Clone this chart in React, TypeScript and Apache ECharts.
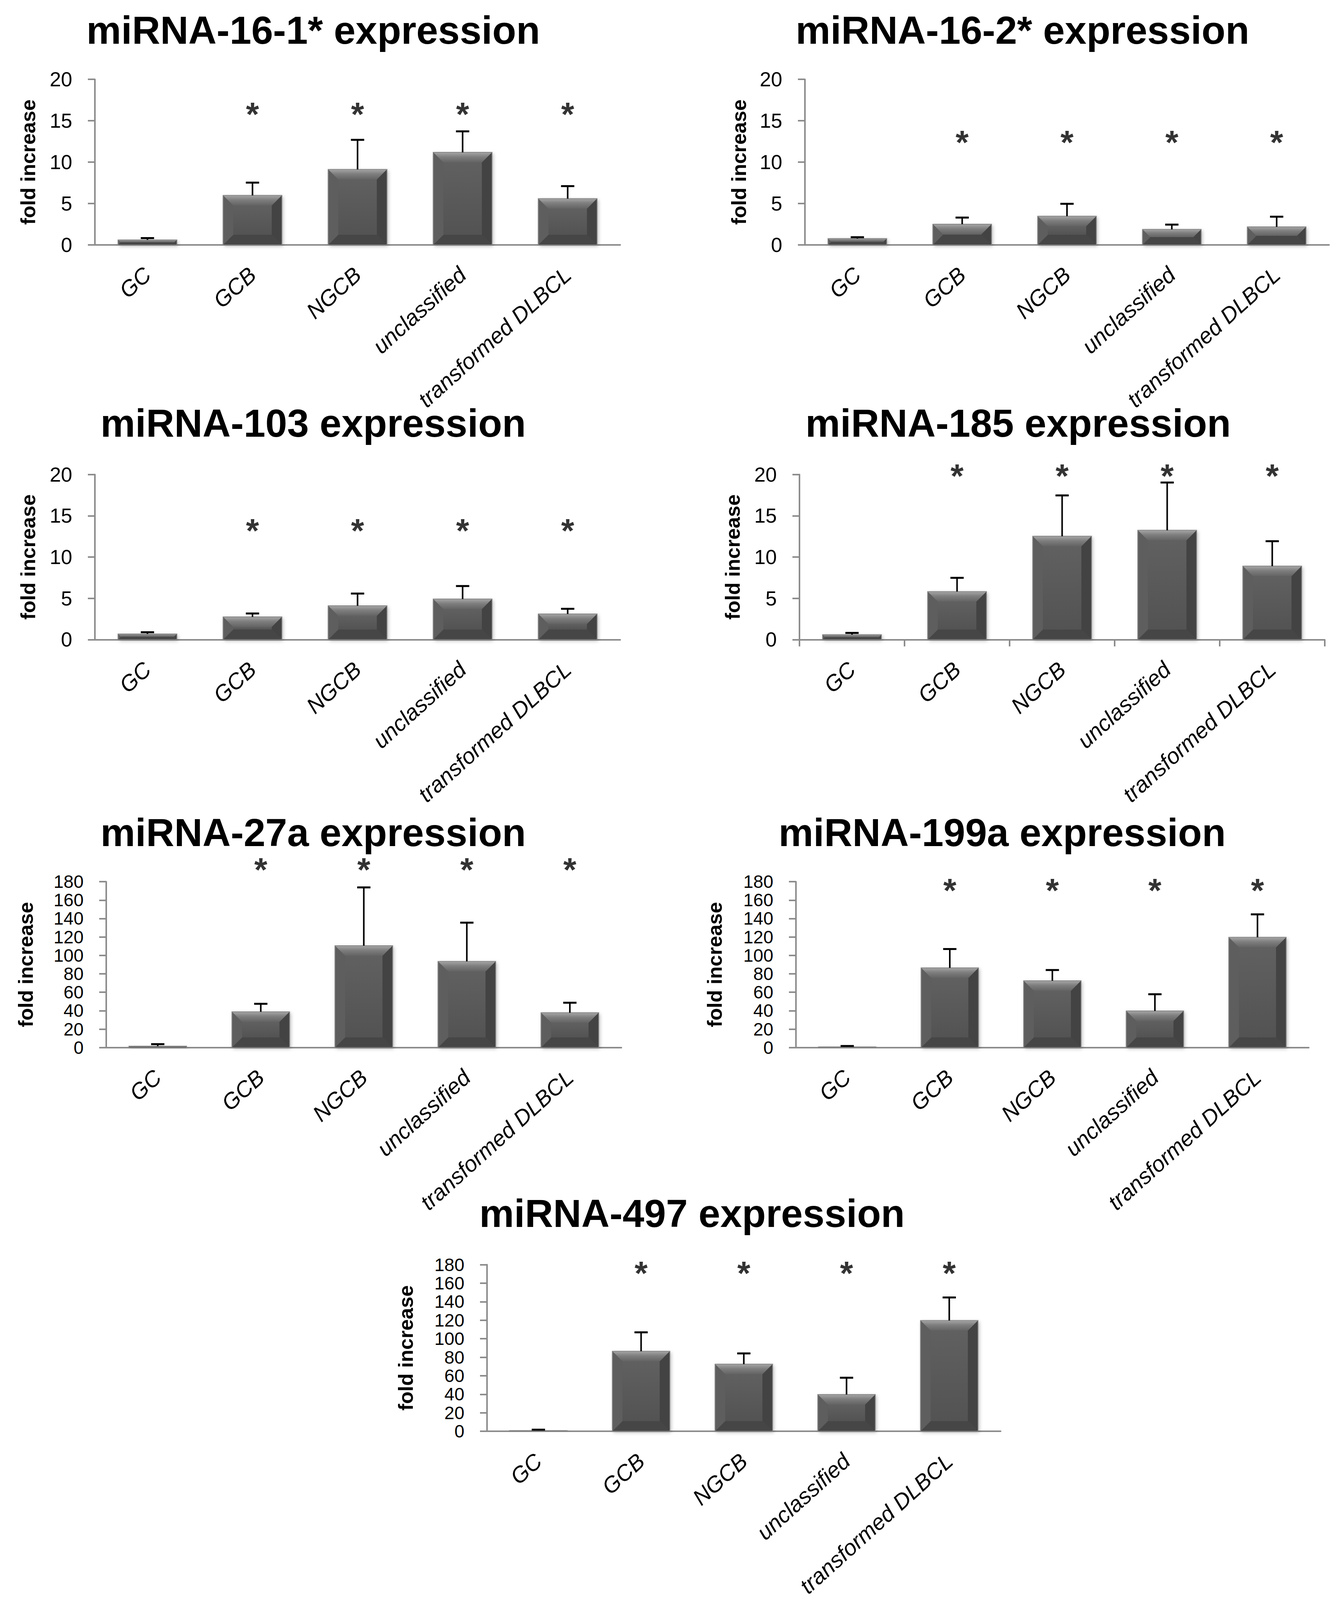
import React, { useEffect, useRef } from 'react';
import * as echarts from 'echarts';

const categories = ['GC', 'GCB', 'NGCB', 'unclassified', 'transformed DLBCL'];

const titles = [
  'miRNA-16-1* expression',
  'miRNA-16-2* expression',
  'miRNA-103 expression',
  'miRNA-185 expression',
  'miRNA-27a expression',
  'miRNA-199a expression',
  'miRNA-497 expression',
];

// mean fold increase and upper error (SD) per category
const mir161Mean = [0.6, 5.98, 9.12, 11.18, 5.59];
const mir161Err = [0.22, 1.54, 3.57, 2.54, 1.51];
const mir162Mean = [0.76, 2.5, 3.47, 1.87, 2.18];
const mir162Err = [0.17, 0.8, 1.5, 0.58, 1.23];
const mir103Mean = [0.69, 2.75, 4.1, 4.92, 3.11];
const mir103Err = [0.21, 0.42, 1.48, 1.57, 0.63];
const mir185Mean = [0.6, 5.82, 12.52, 13.24, 8.9];
const mir185Err = [0.21, 1.66, 4.95, 5.79, 3.02];
const mir27aMean = [1.5, 38.8, 110.5, 93.5, 37.8];
const mir27aErr = [2.2, 8.7, 63.3, 42.0, 10.9];
const mir199aMean = [0.8, 86.5, 72.5, 39.7, 119.7];
const mir199aErr = [0.9, 20.4, 11.6, 18.2, 24.9];
const mir497Mean = [0.8, 86.5, 72.5, 39.7, 119.7];
const mir497Err = [0.9, 20.4, 11.6, 18.2, 24.9];

const means = [mir161Mean, mir162Mean, mir103Mean, mir185Mean, mir27aMean, mir199aMean, mir497Mean];
const errs = [mir161Err, mir162Err, mir103Err, mir185Err, mir27aErr, mir199aErr, mir497Err];

const yMax = [20, 20, 20, 20, 180, 180, 180];
const yInterval = [5, 5, 5, 5, 20, 20, 20];
// significance marks (asterisk) per category and the level where they are drawn
const starFlags = [0, 1, 1, 1, 1];
const starLevel = [16.3, 12.9, 13.7, 20.3, 197.5, 174.8, 175.3];

// layout in reference pixels (3431 x 4495); vertical values are scaled to the viewport
const REF_W = 3431;
const REF_H = 4495;
const layouts = [
  { left: 243, top: 223, width: 1345, height: 465, tx: 802, ty: 84, nameGap: 145, xTicks: false, yFont: 52 },
  { left: 2061, top: 223, width: 1342, height: 465, tx: 2618, ty: 84, nameGap: 143, xTicks: false, yFont: 52 },
  { left: 243, top: 1333, width: 1345, height: 464, tx: 802, ty: 1189, nameGap: 145, xTicks: false, yFont: 52 },
  { left: 2047, top: 1333, width: 1345, height: 464, tx: 2607, ty: 1189, nameGap: 145, xTicks: true, yFont: 52 },
  { left: 272, top: 2477, width: 1319, height: 466, tx: 802, ty: 2339, nameGap: 180, xTicks: false, yFont: 46 },
  { left: 2038, top: 2477, width: 1313, height: 466, tx: 2566, ty: 2339, nameGap: 182, xTicks: false, yFont: 46 },
  { left: 1247, top: 3553, width: 1315, height: 468, tx: 1772, ty: 3409, nameGap: 182, xTicks: false, yFont: 46 },
];

const AXIS_GRAY = '#8c8c8c';
const SANS = '"Liberation Sans", Arial, sans-serif';

function renderBevelBar(params: any, api: any) {
  const idx = api.value(0);
  const v = api.value(1);
  const top = api.coord([idx, v]);
  const base = api.coord([idx, 0]);
  const w = api.size([1, 0])[0] * 0.56;
  const x = top[0] - w / 2;
  const y = top[1];
  const h = base[1] - top[1];
  const b = Math.max(0, Math.min(26, h / 2, w / 2));
  const grad = (c: [number, string][]) =>
    new echarts.graphic.LinearGradient(0, 0, 0, 1, c.map(([o, col]) => ({ offset: o, color: col })));
  return {
    type: 'group',
    children: [
      {
        type: 'rect',
        shape: { x, y, width: w, height: h },
        style: {
          fill: '#595959',
          shadowBlur: 10,
          shadowColor: 'rgba(0,0,0,0.28)',
          shadowOffsetX: 3,
          shadowOffsetY: 3,
        },
      },
      {
        type: 'rect',
        shape: { x: x + b, y: y + b, width: w - 2 * b, height: Math.max(0, h - 2 * b) },
        style: { fill: grad([[0, '#606060'], [1, '#535353']]) },
      },
      {
        type: 'polygon',
        shape: { points: [[x, y], [x + w, y], [x + w - b, y + b], [x + b, y + b]] },
        style: { fill: grad([[0, '#a6a6a6'], [0.45, '#7e7e7e'], [1, '#636363']]) },
      },
      {
        type: 'polygon',
        shape: { points: [[x, y + h], [x + w, y + h], [x + w - b, y + h - b], [x + b, y + h - b]] },
        style: { fill: '#464646' },
      },
      {
        type: 'polygon',
        shape: { points: [[x, y], [x + b, y + b], [x + b, y + h - b], [x, y + h]] },
        style: { fill: '#5e5e5e' },
      },
      {
        type: 'polygon',
        shape: { points: [[x + w, y], [x + w - b, y + b], [x + w - b, y + h - b], [x + w, y + h]] },
        style: { fill: '#434343' },
      },
      {
        type: 'rect',
        shape: { x, y, width: w, height: h },
        style: { fill: 'none', stroke: '#858585', lineWidth: 2 },
      },
    ],
  };
}

function renderErrorBar(params: any, api: any) {
  const idx = api.value(0);
  const p0 = api.coord([idx, api.value(1)]);
  const p1 = api.coord([idx, api.value(2)]);
  const cap = 17;
  return {
    type: 'group',
    children: [
      {
        type: 'line',
        shape: { x1: p0[0], y1: p0[1], x2: p1[0], y2: p1[1] },
        style: { stroke: '#000', lineWidth: 4 },
      },
      {
        type: 'line',
        shape: { x1: p1[0] - cap, y1: p1[1], x2: p1[0] + cap, y2: p1[1] },
        style: { stroke: '#000', lineWidth: 5 },
      },
    ],
  };
}

function buildOption(fy: number) {
  const grid: any[] = [];
  const xAxis: any[] = [];
  const yAxis: any[] = [];
  const series: any[] = [];
  const graphic: any[] = [];

  layouts.forEach((L, k) => {
    grid.push({
      left: L.left,
      top: L.top * fy,
      width: L.width,
      height: L.height * fy,
      containLabel: false,
    });
    xAxis.push({
      type: 'category',
      gridIndex: k,
      data: categories,
      axisLine: { show: true, lineStyle: { color: AXIS_GRAY, width: 4 } },
      axisTick: { show: L.xTicks, length: 19 * fy, lineStyle: { color: AXIS_GRAY, width: 4 } },
      axisLabel: {
        interval: 0,
        rotate: 42,
        margin: 74 * fy,
        fontSize: 57,
        fontStyle: 'italic',
        fontFamily: SANS,
        color: '#000',
      },
      splitLine: { show: false },
    });
    yAxis.push({
      type: 'value',
      gridIndex: k,
      min: 0,
      max: yMax[k],
      interval: yInterval[k],
      axisLine: { show: true, lineStyle: { color: AXIS_GRAY, width: 4 } },
      axisTick: { show: true, length: 18, lineStyle: { color: AXIS_GRAY, width: 4 } },
      axisLabel: {
        fontSize: L.yFont,
        fontFamily: SANS,
        color: '#000',
        margin: 58,
        showMinLabel: true,
        showMaxLabel: true,
      },
      splitLine: { show: false },
      name: 'fold increase',
      nameLocation: 'middle',
      nameRotate: 90,
      nameGap: L.nameGap,
      nameTextStyle: { fontSize: 52, fontWeight: 'bold', fontFamily: SANS, color: '#000' },
    });

    const m = means[k];
    const e = errs[k];
    series.push({
      type: 'custom',
      xAxisIndex: k,
      yAxisIndex: k,
      renderItem: renderBevelBar,
      data: m.map((v, i) => [i, v]),
      encode: { x: 0, y: 1 },
      z: 2,
    });
    series.push({
      type: 'custom',
      xAxisIndex: k,
      yAxisIndex: k,
      renderItem: renderErrorBar,
      data: m.map((v, i) => [i, v, v + e[i]]),
      encode: { x: 0, y: [1, 2] },
      z: 3,
    });
    series.push({
      type: 'scatter',
      xAxisIndex: k,
      yAxisIndex: k,
      clip: false,
      symbolSize: 1,
      itemStyle: { color: 'rgba(0,0,0,0)' },
      data: starFlags.map((f, i) => (f ? [i, starLevel[k]] : null)).filter((d) => d !== null),
      label: {
        show: true,
        position: 'inside',
        formatter: '*',
        fontSize: 86,
        fontWeight: 'bold',
        fontFamily: SANS,
        color: '#000',
        offset: [0, 10],
      },
      z: 4,
    });

    graphic.push({
      type: 'text',
      x: L.tx,
      y: L.ty * fy,
      style: {
        text: titles[k],
        fontSize: 100,
        fontWeight: 'bold',
        fontFamily: SANS,
        fill: '#000',
        align: 'center',
        verticalAlign: 'middle',
      },
    });
  });

  return {
    animation: false,
    backgroundColor: '#ffffff',
    grid,
    xAxis,
    yAxis,
    series,
    graphic,
  };
}

export default function App() {
  const ref = useRef<HTMLDivElement>(null);
  useEffect(() => {
    document.body.style.margin = '0';
    const el = ref.current;
    if (!el) return;
    const vh = window.innerHeight || REF_H;
    const H = Math.min(REF_H, vh);
    const fy = H / REF_H;
    el.style.height = H + 'px';
    const chart = echarts.init(el, undefined, { renderer: 'svg', width: REF_W, height: H });
    chart.setOption(buildOption(fy) as any);
    return () => chart.dispose();
  }, []);
  return <div ref={ref} style={{ width: REF_W, height: REF_H, overflow: 'hidden' }} />;
}
